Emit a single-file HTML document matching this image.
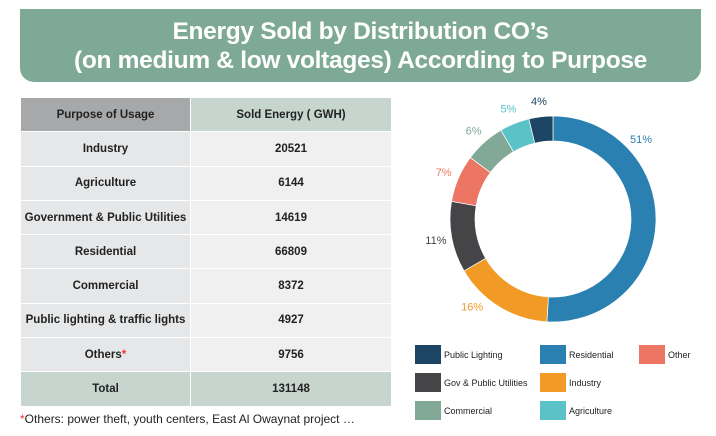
<!DOCTYPE html>
<html><head><meta charset="utf-8">
<style>
body{margin:0;width:716px;height:436px;background:#fff;font-family:"Liberation Sans",sans-serif;position:relative;overflow:hidden}
#banner{position:absolute;left:20px;top:9px;width:681px;height:73px;background:#7fa997;border-radius:0 0 14px 14px;color:#fff;text-align:center;font-weight:bold;font-size:24.5px;line-height:29px;padding-top:8px;box-sizing:border-box;letter-spacing:-0.3px}
table{position:absolute;left:20px;top:97px;border-collapse:collapse;width:372px}
td{height:33.3px;text-align:center;font-size:11.5px;font-weight:bold;color:#222;border:1.5px solid #fff;padding:0}
td.l{background:#e6e7e8;width:169px}
td.r{background:#eff0ef}
tr.h td.l{background:#a7a8aa}
tr.h td.r,tr.t td{background:#c6d6ce}
#note{position:absolute;left:20px;top:412px;font-size:12px;color:#222}
</style></head><body>
<div id="banner">Energy Sold by Distribution CO’s<br>(on medium &amp; low voltages) According to Purpose</div>
<table>
<tr class="h"><td class="l">Purpose of Usage</td><td class="r">Sold Energy ( GWH)</td></tr>
<tr><td class="l">Industry</td><td class="r">20521</td></tr>
<tr><td class="l">Agriculture</td><td class="r">6144</td></tr>
<tr><td class="l">Government &amp; Public Utilities</td><td class="r">14619</td></tr>
<tr><td class="l">Residential</td><td class="r">66809</td></tr>
<tr><td class="l">Commercial</td><td class="r">8372</td></tr>
<tr><td class="l">Public lighting &amp; traffic lights</td><td class="r">4927</td></tr>
<tr><td class="l">Others<span style="color:#e33">*</span></td><td class="r">9756</td></tr>
<tr class="t"><td class="l">Total</td><td class="r">131148</td></tr>
</table>
<div id="note"><span style="color:#e33">*</span>Others: power theft, youth centers, East Al Owaynat project …</div>
<svg id="chart" width="716" height="436" style="position:absolute;left:0;top:0"></svg>
<script>
const categories=["Residential","Industry","Gov & Public Utilities","Other","Commercial","Agriculture","Public Lighting"];
const values=[66809,20521,14619,9756,8372,6144,4927];
const pctLabels=["51%","16%","11%","7%","6%","5%","4%"];
const colors=["#2a80b0","#f29a26","#454547","#ec7563","#82a998","#5bc2c7","#1b4562"];
const labelFrac=[0.26,0.7,0.5,0.5,0.5,0.5,0.5];
const legendOrder=["Public Lighting","Residential","Other","Gov & Public Utilities","Industry","","Commercial","Agriculture"];
const NS="http://www.w3.org/2000/svg";
const svg=document.getElementById('chart');
const cx=553,cy=219,R=103,r=78;
const total=values.reduce((a,b)=>a+b,0);
function pt(a,rad){return [cx+rad*Math.sin(a),cy-rad*Math.cos(a)];}
let acc=0;
values.forEach((v,i)=>{
 const a0=acc/total*2*Math.PI;acc+=v;const a1=acc/total*2*Math.PI;
 const large=(a1-a0)>Math.PI?1:0;
 const p0=pt(a0,R),p1=pt(a1,R),q1=pt(a1,r),q0=pt(a0,r);
 const p=document.createElementNS(NS,'path');
 p.setAttribute('d',`M${p0[0]},${p0[1]}A${R},${R} 0 ${large} 1 ${p1[0]},${p1[1]}L${q1[0]},${q1[1]}A${r},${r} 0 ${large} 0 ${q0[0]},${q0[1]}Z`);
 p.setAttribute('fill',colors[i]);p.setAttribute('stroke','#fff');p.setAttribute('stroke-width','0.7');
 
 
 svg.appendChild(p);
 const m=a0+(a1-a0)*labelFrac[i];const lp=pt(m,119);
 const t=document.createElementNS(NS,'text');
 t.setAttribute('x',lp[0]);t.setAttribute('y',lp[1]+4);t.setAttribute('text-anchor','middle');
 t.setAttribute('font-size','11');t.setAttribute('fill',colors[i]);
 t.textContent=pctLabels[i];
 
 
 svg.appendChild(t);
});
const lx=[415,540,639],ly=[345,373,401];
legendOrder.forEach((name,k)=>{
 if(!name)return;
 const c=k%3,rw=Math.floor(k/3);
 const idx=categories.indexOf(name);
 const g=document.createElementNS(NS,'g');
 
 
 const s=document.createElementNS(NS,'rect');
 s.setAttribute('x',lx[c]);s.setAttribute('y',ly[rw]);s.setAttribute('width',26);s.setAttribute('height',19);s.setAttribute('fill',colors[idx]);
 g.appendChild(s);
 const t=document.createElementNS(NS,'text');
 t.setAttribute('x',lx[c]+29);t.setAttribute('y',ly[rw]+13);t.setAttribute('font-size','9');t.setAttribute('fill','#222');
 t.textContent=name;g.appendChild(t);
 svg.appendChild(g);
});
</script>
</body></html>
